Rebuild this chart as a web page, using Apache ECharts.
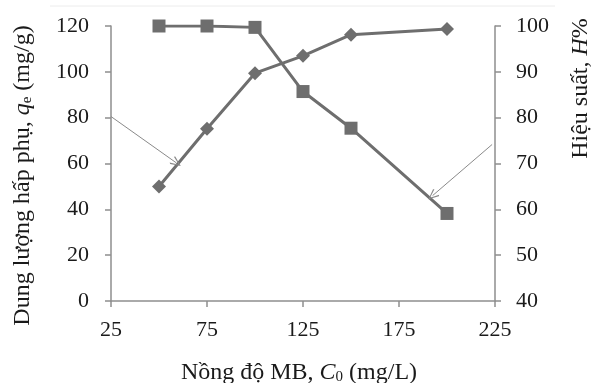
<!DOCTYPE html>
<html>
<head>
<meta charset="utf-8">
<script src="https://cdn.jsdelivr.net/npm/echarts@6/dist/echarts.min.js"></script>
<style>
html,body{margin:0;padding:0;background:#fff;}
#c{width:591px;height:383px;}
</style>
</head>
<body>
<div id="c"></div>
<script>
// Data
var concentrations = [50, 75, 100, 125, 150, 200];
var capacity = [50, 75.2, 99.4, 107, 116.2, 118.7];   // q_e (mg/g), left axis
var efficiency = [100, 100, 99.7, 85.7, 77.7, 59.1];   // H%, right axis
var xTicks = [25, 75, 125, 175, 225];
var leftTicks = [0, 20, 40, 60, 80, 100, 120];
var rightTicks = [40, 50, 60, 70, 80, 90, 100];
// annotation arrows (data coordinates on left axis)
var arrowLeft = [[25, 80.5], [59, 60.3]];
var arrowRight = [[223.5, 68.3], [192.5, 46]];

function pairs(xs, ys){ return xs.map(function(x,i){ return [x, ys[i]]; }); }

var chart = echarts.init(document.getElementById('c'));
var font = 'Liberation Serif';
var lineColor = '#6e6e6e';
var axisColor = '#8e8e8e';
var txt = '#1a1a1a';
var chevron = 'path://M5,0 L10,9 L9,10 L5,2 L1,10 L0,9 Z';

var nameRich = {
  a: {fontFamily: font, fontSize: 24, color: txt},
  i: {fontFamily: font, fontSize: 24, fontStyle: 'italic', color: txt},
  s: {fontFamily: font, fontSize: 15, color: txt, verticalAlign: 'bottom', padding: [9, 0, 0, 0]}
};

chart.setOption({
  animation: false,
  backgroundColor: '#fff',
  textStyle: {fontFamily: font},
  grid: {left: 111, right: 96, top: 26, bottom: 82, containLabel: false, outerBoundsMode: 'none'},
  graphic: [{
    type: 'line', shape: {x1: 50, y1: 6, x2: 555, y2: 6},
    style: {stroke: '#ececec', lineWidth: 1}
  }],
  xAxis: {
    type: 'value', min: xTicks[0], max: xTicks[xTicks.length-1], interval: 50,
    axisLine: {lineStyle: {color: axisColor, width: 1.5}},
    axisTick: {length: 6, lineStyle: {color: axisColor, width: 1.5}},
    axisLabel: {fontFamily: font, fontSize: 22, color: txt, margin: 18},
    splitLine: {show: false},
    name: '{a|Nồng độ MB, }{i|C}{s|0}{a| (mg/L)}',
    nameLocation: 'middle', nameGap: 60,
    nameTextStyle: {rich: nameRich, padding: [0, 8, 0, 0]}
  },
  yAxis: [{
    type: 'value', min: leftTicks[0], max: leftTicks[leftTicks.length-1], interval: 20,
    position: 'left',
    axisLine: {show: true, lineStyle: {color: axisColor, width: 1.5}},
    axisTick: {show: true, length: 6, lineStyle: {color: axisColor, width: 1.5}},
    axisLabel: {fontFamily: font, fontSize: 22, color: txt, margin: 22},
    splitLine: {show: false},
    name: '{a|Dung lượng hấp phụ, }{i|q}{s|e}{a| (mg/g)}',
    nameLocation: 'middle', nameGap: 76, nameRotate: 90,
    nameTextStyle: {rich: nameRich, padding: [0, 24, 0, 0]}
  }, {
    type: 'value', min: rightTicks[0], max: rightTicks[rightTicks.length-1], interval: 10,
    position: 'right',
    axisLine: {show: true, lineStyle: {color: axisColor, width: 1.5}},
    axisTick: {show: true, length: 6, lineStyle: {color: axisColor, width: 1.5}},
    axisLabel: {fontFamily: font, fontSize: 22, color: txt, margin: 21},
    splitLine: {show: false},
    name: '{a|Hiệu suất, }{i|H}{a|%}',
    nameLocation: 'middle', nameGap: 74, nameRotate: 90,
    nameTextStyle: {rich: nameRich, padding: [0, 0, 0, 150]}
  }],
  series: [{
    type: 'line', yAxisIndex: 0, data: pairs(concentrations, capacity),
    symbol: 'diamond', symbolSize: 14,
    lineStyle: {color: lineColor, width: 3},
    itemStyle: {color: lineColor},
    z: 3,
    markLine: {
      silent: true, symbol: ['none', chevron], symbolSize: [9, 11],
      lineStyle: {color: '#8a8a8a', width: 1, type: 'solid'},
      label: {show: false},
      data: [
        [{coord: arrowLeft[0]}, {coord: arrowLeft[1]}],
        [{coord: arrowRight[0]}, {coord: arrowRight[1]}]
      ]
    }
  }, {
    type: 'line', yAxisIndex: 1, data: pairs(concentrations, efficiency),
    symbol: 'rect', symbolSize: 13,
    lineStyle: {color: lineColor, width: 3},
    itemStyle: {color: lineColor},
    z: 3
  }]
});
</script>
</body>
</html>
